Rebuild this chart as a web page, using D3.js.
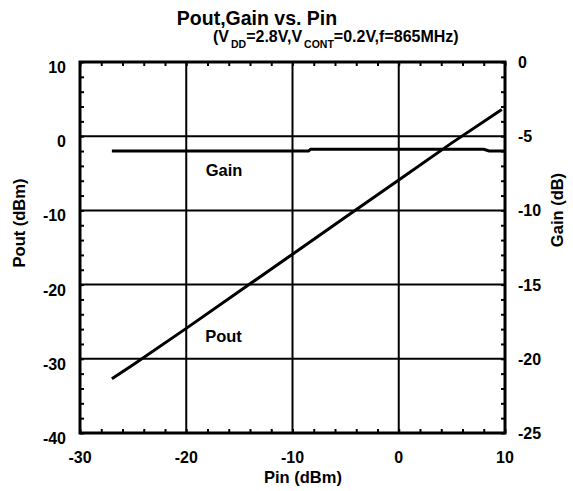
<!DOCTYPE html>
<html>
<head>
<meta charset="utf-8">
<script src="https://cdn.jsdelivr.net/npm/d3@7"></script>
<style>
  body { margin: 0; background: #fff; }
  text { font-family: "Liberation Sans", Arial, sans-serif; font-weight: bold; fill: #000; }
</style>
</head>
<body>
<svg width="573" height="491"></svg>
<script>
// values
var pin = [-27, -25, -20, -15, -10, -5, 0, 5, 9.7];
var pout = [-32.7, -30.8, -25.9, -20.9, -15.9, -10.9, -5.9, -0.9, 3.6];
var gainPin = [-27, -20, -10, -8.5, -8.3, 0, 8, 8.5, 10];
var gain = [-6.0, -6.0, -6.0, -6.0, -5.88, -5.88, -5.88, -6.0, -6.0];

var xTicks = [-30, -20, -10, 0, 10];
var yLeftTicks = [10, 0, -10, -20, -30, -40];
var yRightTicks = [0, -5, -10, -15, -20, -25];

var svg = d3.select("svg");
var pLeft = 80, pRight = 505, pTop = 62, pBottom = 433;

var x = d3.scaleLinear().domain([-30, 10]).range([pLeft, pRight]);
var y = d3.scaleLinear().domain([-40, 10]).range([pBottom, pTop]);
var y2 = d3.scaleLinear().domain([-25, 0]).range([pBottom, pTop]);

// major grid
svg.append("g").selectAll("line")
    .data(xTicks.slice(1, -1))
    .enter().append("line")
    .attr("x1", d => x(d)).attr("x2", d => x(d))
    .attr("y1", pTop).attr("y2", pBottom)
    .attr("stroke", "#000").attr("stroke-width", 2);
svg.append("g").selectAll("line")
    .data(yLeftTicks.slice(1, -1))
    .enter().append("line")
    .attr("x1", pLeft).attr("x2", pRight)
    .attr("y1", d => y(d)).attr("y2", d => y(d))
    .attr("stroke", "#000").attr("stroke-width", 2);

// minor ticks, pointing inward
function minor(axis, tr) {
    var g = svg.append("g").attr("transform", tr).call(axis);
    g.select(".domain").remove();
    g.selectAll("line").attr("stroke", "#000").attr("stroke-width", 2);
    g.selectAll("text").remove();
}
var xMinor = d3.range(-30, 10.1, 2);
var yMinor = d3.range(-40, 10.1, 2);
minor(d3.axisBottom(x).tickValues(xMinor).tickSize(-4), "translate(0," + pBottom + ")");
minor(d3.axisTop(x).tickValues(xMinor).tickSize(-4), "translate(0," + pTop + ")");
minor(d3.axisLeft(y).tickValues(yMinor).tickSize(-4), "translate(" + pLeft + ",0)");
minor(d3.axisRight(y2).tickValues(d3.range(-25, 0.1, 1)).tickSize(-4), "translate(" + pRight + ",0)");

// frame
svg.append("rect")
    .attr("x", pLeft).attr("y", pTop)
    .attr("width", pRight - pLeft).attr("height", pBottom - pTop)
    .attr("fill", "none").attr("stroke", "#000").attr("stroke-width", 3);

// data lines
var line = d3.line().x(d => x(d[0])).y(d => d[1]);
svg.append("path")
    .datum(d3.zip(gainPin, gain.map(g => y2(g))))
    .attr("d", line)
    .attr("fill", "none").attr("stroke", "#000").attr("stroke-width", 3);
svg.append("path")
    .datum(d3.zip(pin, pout.map(p => y(p))))
    .attr("d", line)
    .attr("fill", "none").attr("stroke", "#000").attr("stroke-width", 3);

// tick labels
svg.append("g").selectAll("text")
    .data(yLeftTicks).enter().append("text")
    .attr("x", pLeft - 14).attr("y", d => y(d) + 11)
    .attr("text-anchor", "end").attr("font-size", 16)
    .text(d => d);
svg.append("g").selectAll("text")
    .data(yRightTicks).enter().append("text")
    .attr("x", pRight + 13).attr("y", d => y2(d) + 6)
    .attr("text-anchor", "start").attr("font-size", 16)
    .text(d => d);
svg.append("g").selectAll("text")
    .data(xTicks).enter().append("text")
    .attr("x", d => x(d)).attr("y", pBottom + 30)
    .attr("text-anchor", "middle").attr("font-size", 16)
    .text(d => d);

// axis titles
svg.append("text").attr("x", 303).attr("y", 483)
    .attr("text-anchor", "middle").attr("font-size", 16.5).text("Pin (dBm)");
svg.append("text").attr("transform", "translate(25,223) rotate(-90)")
    .attr("text-anchor", "middle").attr("font-size", 16.5).text("Pout (dBm)");
svg.append("text").attr("transform", "translate(563,210) rotate(-90)")
    .attr("text-anchor", "middle").attr("font-size", 16.5).text("Gain (dB)");

// series labels
svg.append("text").attr("x", 224).attr("y", 176)
    .attr("text-anchor", "middle").attr("font-size", 16.5).text("Gain");
svg.append("text").attr("x", 223.5).attr("y", 342)
    .attr("text-anchor", "middle").attr("font-size", 16.5).text("Pout");

// titles
svg.append("text").attr("x", 257).attr("y", 25)
    .attr("text-anchor", "middle").attr("font-size", 19.5).text("Pout,Gain vs. Pin");
var sub = svg.append("text").attr("x", 213).attr("y", 42).attr("font-size", 16);
sub.append("tspan").text("(V");
sub.append("tspan").attr("dy", 6).attr("dx", 2).attr("font-size", 10.5).text("DD");
sub.append("tspan").attr("dy", -6).text("=2.8V,V");
sub.append("tspan").attr("dy", 6).attr("dx", 2).attr("font-size", 10.5).text("CONT");
sub.append("tspan").attr("dy", -6).text("=0.2V,f=865MHz)");
</script>
</body>
</html>
